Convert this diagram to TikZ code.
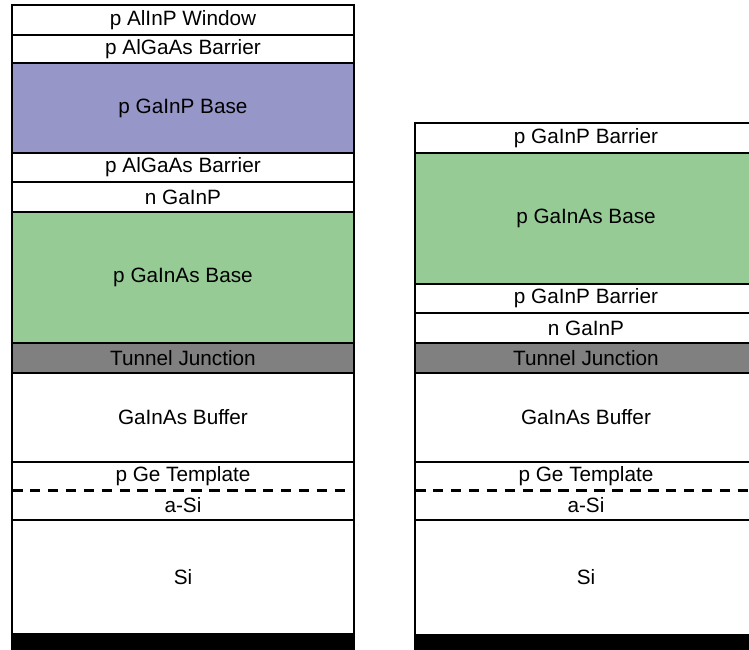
\documentclass[tikz,border=0pt]{standalone}
\usepackage{fontspec}
\setmainfont{Liberation Sans}
\usetikzlibrary{positioning}
\definecolor{topbase}{RGB}{150,150,200}
\definecolor{midbase}{RGB}{150,203,150}
\definecolor{tunnel}{RGB}{128,128,128}
\tikzset{
  layer/.style={draw, line width=1.6pt, inner sep=0pt, outer sep=0pt,
    minimum width=6.84cm, font=\fontsize{11.8}{13}\selectfont},
  openlayer/.style={layer, draw=none},
  frame/.style={line width=1.6pt},
  interface/.style={line width=1.7pt, dash pattern=on 6pt off 4.2pt},
}
\begin{document}
\begin{tikzpicture}[x=0.02cm, y=-0.02cm]
\useasboundingbox (0,0) rectangle (749,649);
\clip (0,0) rectangle (749,649);

% left stack
\node[layer, anchor=north west, minimum height=0.6cm] (lwin) at (12,5) {p AlInP Window};
\node[layer, below=0pt of lwin, minimum height=0.56cm] (lbarA) {p AlGaAs Barrier};
\node[layer, below=0pt of lbarA, minimum height=1.8cm, fill=topbase] (ltop) {p GaInP Base};
\node[layer, below=0pt of ltop, minimum height=0.58cm] (lbarB) {p AlGaAs Barrier};
\node[layer, below=0pt of lbarB, minimum height=0.6cm] (lngip) {n GaInP};
\node[layer, below=0pt of lngip, minimum height=2.62cm, fill=midbase] (lmid) {p GaInAs Base};
\node[layer, below=0pt of lmid, minimum height=0.6cm, fill=tunnel] (ltj) {Tunnel Junction};
\node[layer, below=0pt of ltj, minimum height=1.78cm] (lbuf) {GaInAs Buffer};
\node[openlayer, below=0pt of lbuf, minimum height=0.58cm] (ltmpl) {p Ge Template};
\node[openlayer, below=0pt of ltmpl, minimum height=0.58cm] (lasi) {a-Si};
\node[layer, below=0pt of lasi, minimum height=2.3cm] (lsi) {Si};
\node[layer, below=0pt of lsi, minimum height=0.4cm, fill=black] (lsub) {};
\draw[frame] (ltmpl.north west) rectangle (lasi.south east);
\draw[interface] (ltmpl.south west) -- (ltmpl.south east);

% right stack
\node[layer, anchor=north west, minimum height=0.6cm] (rbarA) at (415,123) {p GaInP Barrier};
\node[layer, below=0pt of rbarA, minimum height=2.62cm, fill=midbase] (rmid) {p GaInAs Base};
\node[layer, below=0pt of rmid, minimum height=0.58cm] (rbarB) {p GaInP Barrier};
\node[layer, below=0pt of rbarB, minimum height=0.6cm] (rngip) {n GaInP};
\node[layer, below=0pt of rngip, minimum height=0.6cm, fill=tunnel] (rtj) {Tunnel Junction};
\node[layer, below=0pt of rtj, minimum height=1.78cm] (rbuf) {GaInAs Buffer};
\node[openlayer, below=0pt of rbuf, minimum height=0.58cm] (rtmpl) {p Ge Template};
\node[openlayer, below=0pt of rtmpl, minimum height=0.58cm] (rasi) {a-Si};
\node[layer, below=0pt of rasi, minimum height=2.3cm] (rsi) {Si};
\node[layer, below=0pt of rsi, minimum height=0.4cm, fill=black] (rsub) {};
\draw[frame] (rtmpl.north west) rectangle (rasi.south east);
\draw[interface] (rtmpl.south west) -- (rtmpl.south east);
\end{tikzpicture}
\end{document}
